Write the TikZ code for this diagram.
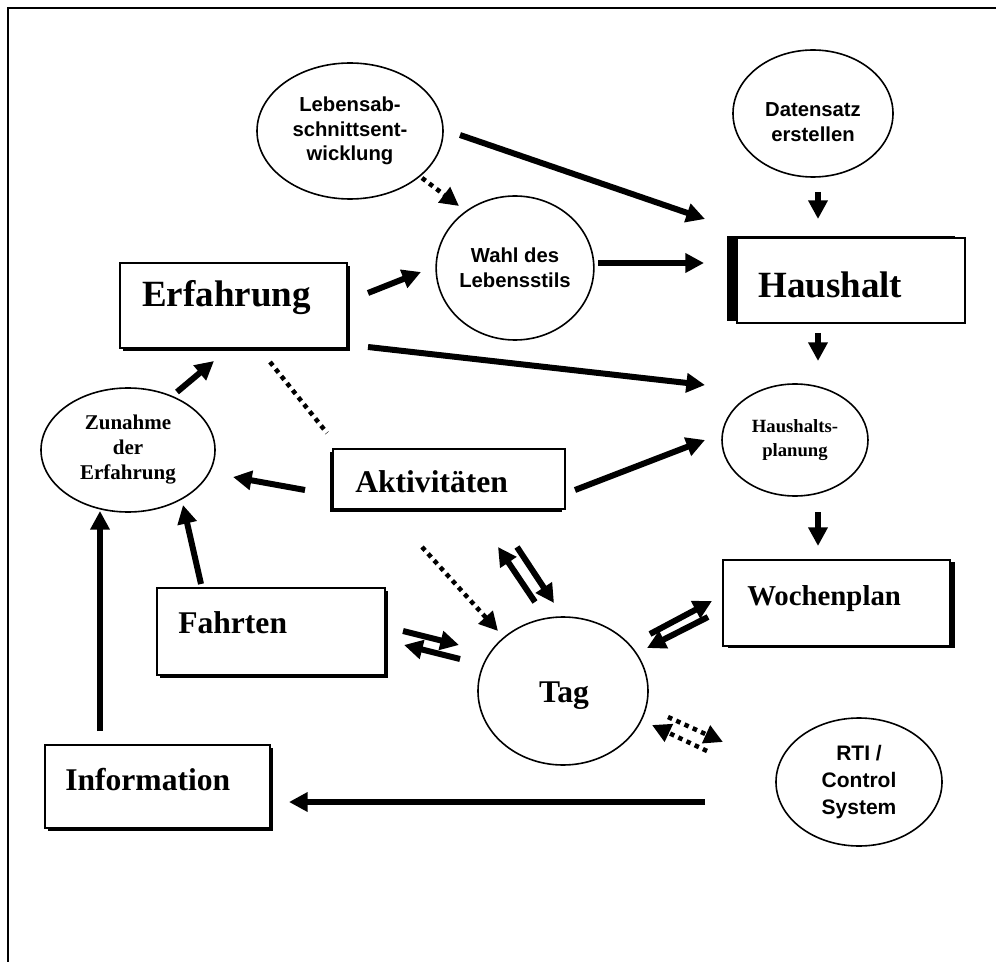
\documentclass[tikz,border=0pt]{standalone}
\usepackage{fontspec}
\setmainfont{Liberation Serif}
\setsansfont{Liberation Sans}
\usetikzlibrary{arrows.meta,shapes.geometric,shadows}

\begin{document}
\begin{tikzpicture}[x=0.75pt,y=-0.75pt,
  frameline/.style={line width=1.8pt},
  box/.style={draw,line width=1pt,fill=white,rectangle,inner sep=0pt},
  shadowbr/.style={drop shadow={shadow xshift=2.25pt,shadow yshift=-2.25pt,opacity=1,fill=black}},
  shadowbl/.style={drop shadow={shadow xshift=-2.25pt,shadow yshift=-2.25pt,opacity=1,fill=black}},
  boxtxt/.style={font=\bfseries\fontsize{23.7pt}{28pt}\selectfont,inner sep=0pt,anchor=base west},
  bigtxt/.style={font=\bfseries\fontsize{27.75pt}{32pt}\selectfont,inner sep=0pt,anchor=base west},
  oval/.style={draw,line width=1.2pt,ellipse,inner sep=0pt,align=center,fill=white},
  sanstxt/.style={font=\sffamily\bfseries\fontsize{15.2pt}{18.4pt}\selectfont},
  serifsmall/.style={font=\bfseries\fontsize{14pt}{18.5pt}\selectfont},
  conn/.style={line width=4.5pt,-{Triangle[length=14pt,width=14pt]}},
  dotconn/.style={line width=3.4pt,dash pattern=on 3.4pt off 3.4pt,-{Triangle[length=14pt,width=14pt]}},
  dotline/.style={line width=3.4pt,dash pattern=on 3.4pt off 3.4pt}
]
\useasboundingbox (0,0) rectangle (996,962);

% outer frame (top and left edges)
\draw[frameline] (8,962) -- (8,8) -- (996,8);

% ---------- ellipses ----------
\node[oval,sanstxt,minimum width=139.5pt,minimum height=102pt] (leben) at (350,131)
  {Lebensab-\\schnittsent-\\wicklung};
\node[oval,minimum width=120pt,minimum height=95.25pt] (daten) at (813,113.5) {};
\node[sanstxt,align=center,inner sep=0pt] (datent) at (813,122) {Datensatz\\erstellen};
\node[oval,sanstxt,minimum width=112.5pt,minimum height=108pt] (wahl) at (515,268)
  {Wahl des\\Lebensstils};
\node[oval,serifsmall,minimum width=109.5pt,minimum height=84pt] (hplan) at (795,440)
  {Haushalts-\\planung};
\node[oval,font=\bfseries\fontsize{15.75pt}{18.75pt}\selectfont,minimum width=130.5pt,minimum height=93pt] (zun) at (128,450)
  {Zunahme\\der\\Erfahrung};
\node[oval,minimum width=127.5pt,minimum height=111pt] (tag) at (563,691) {};
\node[boxtxt,anchor=base] (tagt) at (564,702) {Tag};
\node[oval,font=\sffamily\bfseries\fontsize{15.75pt}{20pt}\selectfont,minimum width=124.5pt,minimum height=96pt] (rti) at (859,782)
  {RTI /\\Control\\System};

% ---------- boxes ----------
\node[box,shadowbr,minimum width=170.25pt,minimum height=63.75pt] (erf) at (233.5,305.5) {};
\node[bigtxt] (erft) at (142,307) {Erfahrung};

\node[box,drop shadow={shadow xshift=-7.5pt,shadow yshift=1.5pt,opacity=1,fill=black},
      minimum width=171pt,minimum height=63.75pt] (haus) at (851,280.5) {};
\node[bigtxt] (haust) at (758,298) {Haushalt};

\node[box,shadowbl,minimum width=174pt,minimum height=45pt] (akt) at (449,479) {};
\node[boxtxt] (aktt) at (355,492) {Aktivitäten};

\node[box,shadowbr,minimum width=171pt,minimum height=65.25pt] (fahr) at (271,631.5) {};
\node[boxtxt] (fahrt) at (178,633) {Fahrten};

\node[box,drop shadow={shadow xshift=3.75pt,shadow yshift=-1.5pt,opacity=1,fill=black},
      minimum width=170.25pt,minimum height=64.5pt] (woche) at (836.5,603) {};
\node[boxtxt,font=\bfseries\fontsize{21.6pt}{26pt}\selectfont] (wochet) at (747,605) {Wochenplan};

\node[box,shadowbr,minimum width=168.75pt,minimum height=62.25pt] (info) at (157.5,786.5) {};
\node[boxtxt] (infot) at (65,790) {Information};

% ---------- connector end points ----------
\coordinate (lebenOut) at (460,135);   \coordinate (hausInA) at (705,219);
\coordinate (wahlOut) at (598,263);    \coordinate (hausInB) at (704,263);
\coordinate (datenOut) at (818,192);   \coordinate (hausInC) at (818,219);
\coordinate (lebenDot) at (422,178);   \coordinate (wahlInA) at (459,206);
\coordinate (erfOutA) at (368,293);    \coordinate (wahlInB) at (421,272);
\coordinate (erfOutB) at (368,347);    \coordinate (hplanInA) at (705,385);
\coordinate (hausOut) at (818,333);    \coordinate (hplanInB) at (818,361);
\coordinate (aktOutR) at (575,490);    \coordinate (hplanInC) at (705,440);
\coordinate (hplanOut) at (818,512);   \coordinate (wocheIn) at (818,546);
\coordinate (zunOut) at (177,392);     \coordinate (erfIn) at (214,361);
\coordinate (erfDot) at (270,362);     \coordinate (aktDot) at (327,433);
\coordinate (aktOutL) at (305,490);    \coordinate (zunInA) at (233,477);
\coordinate (aktDotB) at (422,547);    \coordinate (tagInA) at (498,631);
\coordinate (tagUpA) at (535,602);     \coordinate (aktInB) at (498,547);
\coordinate (aktDnA) at (517,547);     \coordinate (tagInB) at (554,603);
\coordinate (fahrOut) at (403,631);    \coordinate (tagInC) at (459,645);
\coordinate (tagOutF) at (460,659);    \coordinate (fahrIn) at (404,645);
\coordinate (tagOutW) at (650,634);    \coordinate (wocheInT) at (712,601);
\coordinate (wocheOut) at (708,617);   \coordinate (tagInW) at (647,648);
\coordinate (tagOutR) at (668,717);    \coordinate (rtiIn) at (723,742);
\coordinate (rtiOut) at (707,751);     \coordinate (tagInR) at (652,725);
\coordinate (rtiOutI) at (705,802);    \coordinate (infoIn) at (289,802);
\coordinate (infoOut) at (100,731);    \coordinate (zunInB) at (100,511);
\coordinate (fahrOutZ) at (201,584);   \coordinate (zunInC) at (183,505);

% ---------- connectors ----------
\draw[conn] (lebenOut) -- (hausInA);
\draw[conn] (wahlOut) -- (hausInB);
\draw[conn] (datenOut) -- (hausInC);
\draw[dotconn] (lebenDot) -- (wahlInA);
\draw[conn] (erfOutA) -- (wahlInB);
\draw[conn] (erfOutB) -- (hplanInA);
\draw[conn] (hausOut) -- (hplanInB);
\draw[conn] (aktOutR) -- (hplanInC);
\draw[conn] (hplanOut) -- (wocheIn);
\draw[conn] (zunOut) -- (erfIn);
\draw[dotline] (erfDot) -- (aktDot);
\draw[conn] (aktOutL) -- (zunInA);
\draw[dotconn] (aktDotB) -- (tagInA);
\draw[conn] (tagUpA) -- (aktInB);
\draw[conn] (aktDnA) -- (tagInB);
\draw[conn] (fahrOut) -- (tagInC);
\draw[conn] (tagOutF) -- (fahrIn);
\draw[conn] (tagOutW) -- (wocheInT);
\draw[conn] (wocheOut) -- (tagInW);
\draw[dotconn] (tagOutR) -- (rtiIn);
\draw[dotconn] (rtiOut) -- (tagInR);
\draw[conn] (rtiOutI) -- (infoIn);
\draw[conn] (infoOut) -- (zunInB);
\draw[conn] (fahrOutZ) -- (zunInC);
\end{tikzpicture}
\end{document}
